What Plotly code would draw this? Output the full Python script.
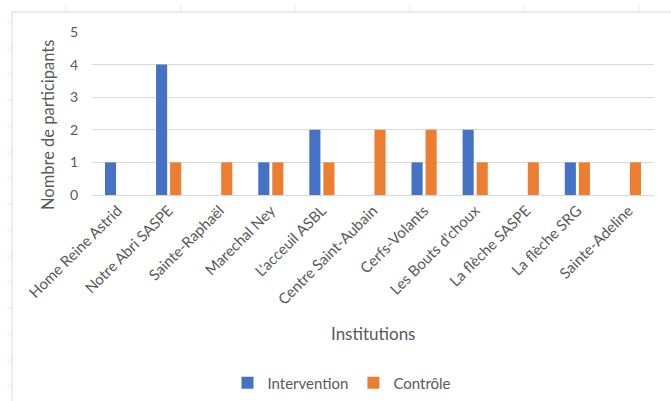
import plotly.graph_objects as go

institutions = ["Home Reine Astrid", "Notre Abri SASPE", "Sainte-Raphaël", "Marechal Ney",
                "L'acceuil ASBL", "Centre Saint-Aubain", "Cerfs-Volants", "Les Bouts d'choux",
                "La flèche SASPE", "La flèche SRG", "Sainte-Adeline"]
intervention = [1, 4, 0, 1, 2, 0, 1, 2, 0, 1, 0]
controle = [0, 1, 1, 1, 1, 2, 2, 1, 1, 1, 1]
y_ticks = [0, 1, 2, 3, 4, 5]

W, H = 671, 401
L, R, T, B = 92, 17, 32, 206
PW = W - L - R
PH = H - T - B

FONT = "Lato"
GRAY = "#595959"


def px_x(px):
    return (px - L) / PW


def px_y(py):
    return (H - B - py) / PH


fig = go.Figure()
fig.add_trace(go.Bar(name="Intervention", x=institutions, y=intervention,
                     marker=dict(color="#4472C4", line=dict(width=0))))
fig.add_trace(go.Bar(name="Contrôle", x=institutions, y=controle,
                     marker=dict(color="#ED7D31", line=dict(width=0))))

FRAME = "#e6e6e6"
shapes = [
    dict(type="line", xref="paper", yref="paper", x0=px_x(12), x1=px_x(W),
         y0=px_y(12), y1=px_y(12), line=dict(color=FRAME, width=1.5)),
    dict(type="line", xref="paper", yref="paper", x0=px_x(12), x1=px_x(12),
         y0=px_y(12), y1=px_y(H), line=dict(color=FRAME, width=1.5)),
]
for px in [66, 181, 295, 410, 524, 639]:
    shapes.append(dict(type="line", xref="paper", yref="paper", x0=px_x(px), x1=px_x(px),
                       y0=px_y(5), y1=px_y(12), line=dict(color=FRAME, width=1)))
for py in range(22, 401, 26):
    shapes.append(dict(type="line", xref="paper", yref="paper", x0=px_x(7), x1=px_x(12),
                       y0=px_y(py), y1=px_y(py), line=dict(color=FRAME, width=1)))

fig.update_layout(
    width=W, height=H,
    margin=dict(l=L, r=R, t=T, b=B, autoexpand=False),
    paper_bgcolor="white", plot_bgcolor="white",
    barmode="group", bargap=0.45, bargroupgap=0.21,
    font=dict(family=FONT, color=GRAY, size=14),
    showlegend=True,
    legend=dict(orientation="h", x=px_x(342), xanchor="center",
                y=px_y(383), yanchor="middle",
                font=dict(family=FONT, size=15, color=GRAY),
                itemwidth=30, traceorder="normal", tracegroupgap=0),
    xaxis=dict(tickangle=-45, showgrid=False, showline=True, linecolor="#d9d9d9",
               linewidth=1, ticks="", tickfont=dict(family=FONT, size=15, color=GRAY),
               automargin=False, fixedrange=True),
    yaxis=dict(range=[0, 5], tickvals=y_ticks, showgrid=True, gridcolor="#d9d9d9",
               gridwidth=1, zeroline=False, showline=False, ticks="",
               ticklabelstandoff=13, automargin=False,
               tickfont=dict(family=FONT, size=14, color=GRAY), fixedrange=True),
    shapes=shapes,
    annotations=[
        dict(text="Institutions", xref="paper", yref="paper",
             x=px_x(373), y=px_y(333),
             xanchor="center", yanchor="middle", showarrow=False,
             font=dict(family=FONT, size=17, color=GRAY)),
        dict(text="Nombre de participants", xref="paper", yref="paper",
             x=px_x(48), y=px_y(125), textangle=-90,
             xanchor="center", yanchor="middle", showarrow=False,
             font=dict(family=FONT, size=16.5, color=GRAY)),
    ],
)

fig.write_html("out.html")
